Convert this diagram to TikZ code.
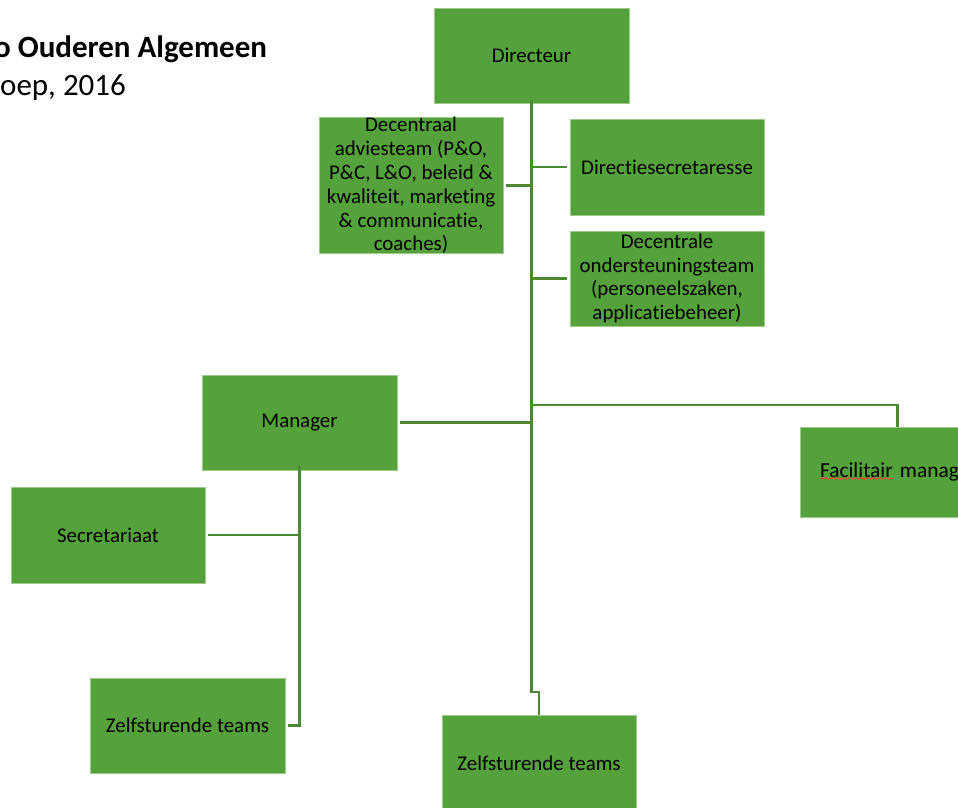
\documentclass[tikz,border=0pt]{standalone}
\usepackage{fontspec}
\setmainfont{Carlito}[Ligatures={NoCommon,NoRare,NoContextual}]
\usetikzlibrary{decorations.pathmorphing}
\definecolor{boxgreen}{HTML}{55A13B}
\definecolor{boxedge}{HTML}{9CCB86}
\definecolor{linegreen}{HTML}{4A8A32}
\definecolor{spellred}{HTML}{E0483A}
\tikzset{
  orgbox/.style={rectangle, fill=boxgreen, draw=boxedge, line width=0.6pt, inner sep=0pt,
    align=center, text=black, font=\fontsize{20.9}{23.8}\selectfont},
  conn/.style={draw=linegreen, line width=2.8pt},
  titlefont/.style={inner sep=0pt, text=black}
}
\begin{document}
\begin{tikzpicture}[x=1pt, y=-1pt]
\useasboundingbox (0,0) rectangle (958,808);
\clip (0,0) rectangle (958,808);

% title
\node[titlefont, anchor=base west, font=\fontsize{31}{37}\selectfont\bfseries] (title1) at (-6,57) {o Ouderen Algemeen};
\node[titlefont, anchor=base west, font=\fontsize{31}{37}\selectfont] (title2) at (0,95) {oep, 2016};

% boxes
\node[orgbox, minimum width=195pt, minimum height=95pt] (dir) at (531.5,55.5) {Directeur};
\node[orgbox, minimum width=184pt, minimum height=133pt] (adv) at (411,185.5)
  {Decentraal\\adviesteam (P\&O,\\P\&C, L\&O, beleid \&\\kwaliteit, marketing\\\& communicatie,\\coaches)};
\node[orgbox, minimum width=194pt, minimum height=96pt] (dsec) at (667,167) {Directiesecretaresse};
\node[orgbox, minimum width=194pt, minimum height=95pt] (dond) at (667,278.5)
  {Decentrale\\ondersteuningsteam\\(personeelszaken,\\applicatiebeheer)};
\node[orgbox, minimum width=195pt, minimum height=95pt] (man) at (299.5,422.5) {Manager};
\node[orgbox, minimum width=195pt, minimum height=90pt, text width=155pt, inner xsep=20pt, align=left, font=\fontsize{21.4}{24}\selectfont] (fac) at (897.5,472) {Facilitair manag};
\node[orgbox, minimum width=194pt, minimum height=96pt] (sec) at (108,535) {Secretariaat};
\node[orgbox, minimum width=195pt, minimum height=95pt] (zl) at (187.5,725.5) {Zelfsturende teams};
\node[orgbox, minimum width=194pt, minimum height=96pt] (zb) at (539,763) {Zelfsturende teams};

% spell-check underline
\coordinate (sq1) at (820,478.5);
\coordinate (sq2) at (893,478.5);
\draw[spellred, line width=0.7pt, decorate, decoration={snake, amplitude=0.9pt, segment length=3pt}] (sq1) -- (sq2);

% connectors
\coordinate (jbot) at (531.5,692);
\coordinate (jbot2) at (539,692);
\coordinate (jfac) at (531.5,405);
\draw[conn] ([yshift=3pt]dir.south) -- (jbot) -- (jbot2) -- (zb.north);
\draw[conn] ([xshift=3pt]adv.east) -- (adv.east -| dir.south);
\draw[conn] (dsec.west -| dir.south) -- ([xshift=-3pt]dsec.west);
\draw[conn] (dond.west -| dir.south) -- ([xshift=-3pt]dond.west);
\draw[conn] ([xshift=3pt]man.east) -- (man.east -| dir.south);
\draw[conn] (jfac) -| (fac.north);
\draw[conn] ([yshift=4pt]man.south) |- ([xshift=3pt]zl.east);
\draw[conn] ([xshift=3pt]sec.east) -- (sec.east -| man.south);
\end{tikzpicture}
\end{document}
